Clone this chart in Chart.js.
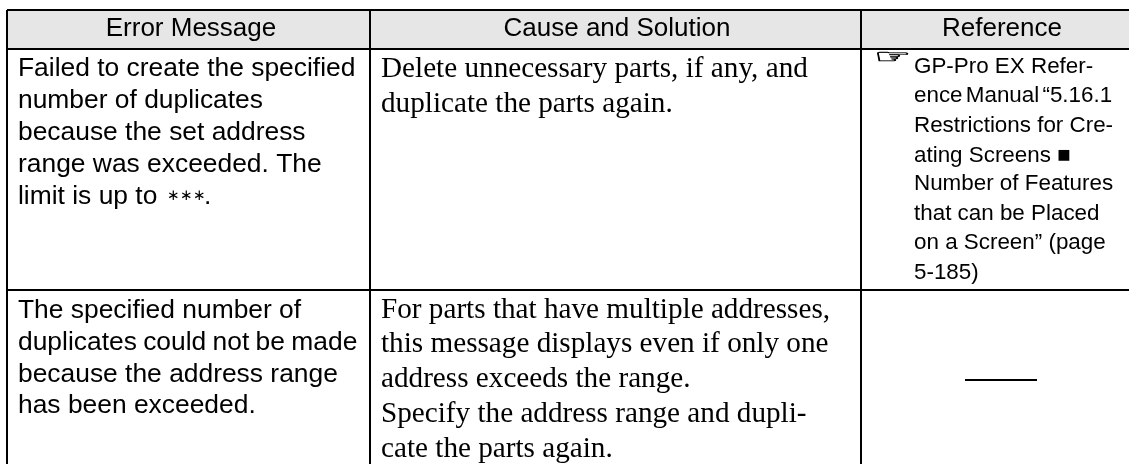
<!DOCTYPE html>
<html>
<head>
<meta charset="utf-8">
<style>
  html, body { margin: 0; background: #fff; }
  canvas { display: block; }
</style>
</head>
<body>
<canvas id="tableChart" width="1129" height="464"></canvas>
<script src="https://cdn.jsdelivr.net/npm/chart.js@4/dist/chart.umd.min.js"></script>
<script>
// Table content
const headers = ['Error Message', 'Cause and Solution', 'Reference'];
const errorMessages = [
    ['Failed to create the specified', 'number of duplicates', 'because the set address', 'range was exceeded. The', 'limit is up to'],
    ['The specified number of', 'duplicates could not be made', 'because the address range', 'has been exceeded.']
];
const limitStars = '\u2217\u2217\u2217';
const causes = [
    ['Delete unnecessary parts, if any, and', 'duplicate the parts again.'],
    ['For parts that have multiple addresses,', 'this message displays even if only one', 'address exceeds the range.', 'Specify the address range and dupli-', 'cate the parts again.']
];
const references = ['GP-Pro EX Refer-', 'ence Manual \u201C5.16.1', 'Restrictions for Cre-', 'ating Screens \u25A0', 'Number of Features', 'that can be Placed', 'on a Screen\u201D (page', '5-185)'];
const handIcon = '\u261E';

// Table rules, in page units
const tableLeft = 7;
const tableRight = 1129;
const tableBottom = 464;
const columnRules = [7, 370, 861];
const rowRules = [10, 49, 290];

// Text placement
const SANS = '"Liberation Sans", Arial, sans-serif';
const SERIF = '"Liberation Serif", "Times New Roman", serif';
const headerCenters = [191, 617, 1002];
const headerBaseline = 36;
const errorX = 18;
const causeX = 381;
const refX = 914;
const errorBaselines = [[75.5, 107.5, 139.5, 171.5, 203.5], [317.5, 349.5, 381.5, 412.5]];
const causeBaselines = [[76.5, 112], [317.5, 352, 387, 422, 456.5]];
const refBaselines = [73, 102, 132, 162, 190, 220, 249, 279];

// Draws the header and cell text through the chart scales
const tableText = {
    id: 'tableText',
    afterDraw(chart) {
        const { ctx, scales: { x, y } } = chart;
        const put = (text, px, py, font, align) => {
            ctx.font = font;
            ctx.textAlign = align || 'left';
            ctx.fillText(text, x.getPixelForValue(px), y.getPixelForValue(py));
        };
        ctx.save();
        ctx.fillStyle = '#000';
        ctx.strokeStyle = '#000';
        ctx.textBaseline = 'alphabetic';

        headers.forEach((h, i) => put(h, headerCenters[i], headerBaseline, '26px ' + SANS, 'center'));
        errorMessages.forEach((lines, r) => {
            lines.forEach((l, i) => {
                // this line is set a little tighter in the original
                ctx.wordSpacing = r === 1 && i === 1 ? '-1px' : '0px';
                put(l, errorX, errorBaselines[r][i], '26.4px ' + SANS);
            });
        });
        ctx.wordSpacing = '0px';
        put(limitStars, 167, 199.5, '15px ' + SERIF);
        put('.', 204, 203.5, '26.4px ' + SANS);
        causes.forEach((lines, r) => {
            lines.forEach((l, i) => put(l, causeX, causeBaselines[r][i], '29.2px ' + SERIF));
        });
        references.forEach((l, i) => {
            ctx.wordSpacing = i === 1 ? '-3px' : '0px';
            put(l, refX, refBaselines[i], '22.4px ' + SANS);
        });
        ctx.wordSpacing = '0px';

        // hand symbol: flattened and thickened to look like the printed one
        ctx.save();
        ctx.translate(x.getPixelForValue(874), y.getPixelForValue(63));
        ctx.scale(1, 0.46);
        ctx.font = '42px "DejaVu Sans"';
        ctx.textAlign = 'left';
        ctx.lineWidth = 1;
        ctx.fillText(handIcon, 0, 0);
        ctx.strokeText(handIcon, 0, 0);
        ctx.restore();

        ctx.restore();
    }
};

new Chart(document.getElementById('tableChart'), {
    type: 'scatter',
    data: {
        datasets: [
            {
                // header band
                type: 'line',
                showLine: true,
                data: [{ x: tableLeft, y: rowRules[1] }, { x: tableRight, y: rowRules[1] }],
                fill: 'end',
                backgroundColor: '#e6e6e6',
                borderWidth: 0,
                pointRadius: 0
            },
            {
                // dash in the empty reference cell
                type: 'line',
                showLine: true,
                data: [{ x: 965, y: 380 }, { x: 1037, y: 380 }],
                borderColor: '#000',
                borderWidth: 2,
                pointRadius: 0
            }
        ]
    },
    plugins: [tableText],
    options: {
        responsive: false,
        animation: false,
        layout: { padding: { left: tableLeft, top: rowRules[0], right: 0, bottom: 0 } },
        plugins: { legend: { display: false }, tooltip: { enabled: false } },
        scales: {
            x: {
                type: 'linear',
                min: tableLeft,
                max: tableRight,
                afterBuildTicks: axis => { axis.ticks = columnRules.map(v => ({ value: v })); },
                ticks: { display: false },
                border: { display: false },
                grid: { color: '#000', lineWidth: 2, drawTicks: false, z: 1 }
            },
            y: {
                type: 'linear',
                reverse: true,
                min: rowRules[0],
                max: tableBottom,
                afterBuildTicks: axis => { axis.ticks = rowRules.map(v => ({ value: v })); },
                ticks: { display: false },
                border: { display: false },
                grid: { color: '#000', lineWidth: 2, drawTicks: false, z: 1 }
            }
        }
    }
});
</script>
</body>
</html>
